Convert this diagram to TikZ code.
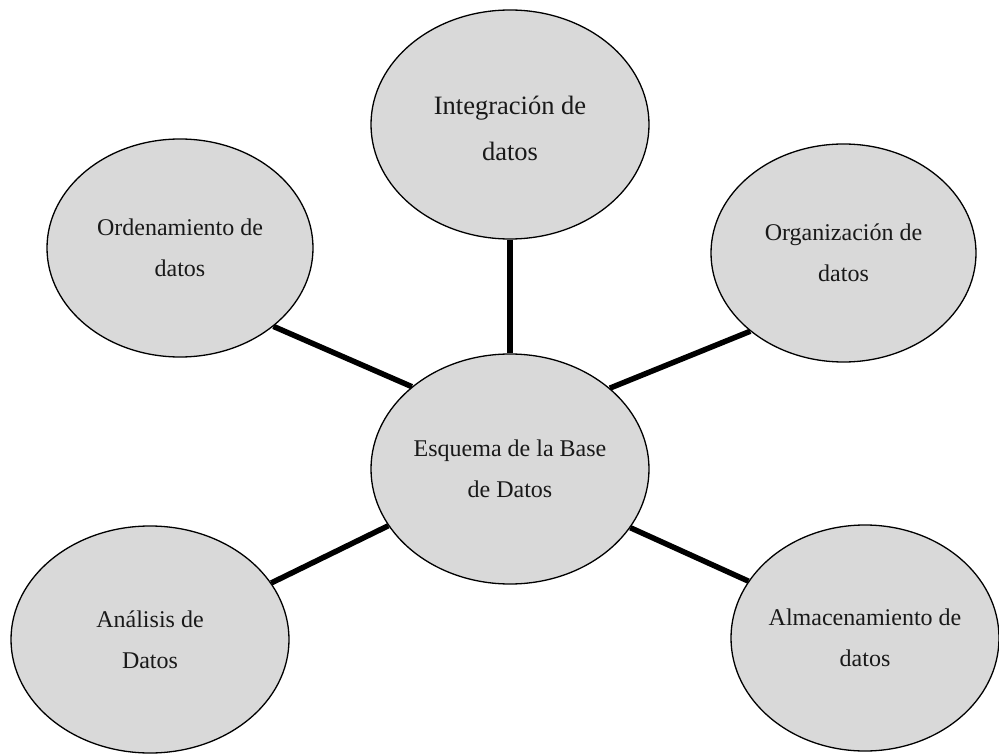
\documentclass[tikz,border=0pt]{standalone}
\usepackage{fontspec}
\setmainfont{Liberation Serif}
\usetikzlibrary{shapes.geometric,backgrounds}
\definecolor{ellfill}{RGB}{217,217,217}
\tikzset{
  bubble/.style={ellipse, draw=black, line width=1.3pt, fill=ellfill, inner sep=0pt},
  lbl/.style={align=center, inner sep=0pt, font=\fontsize{24}{41}\selectfont, text=black!90},
  biglbl/.style={lbl, font=\fontsize{26.5}{46}\selectfont},
  link/.style={line width=5.5pt, black}
}
\begin{document}
\begin{tikzpicture}[x=1pt,y=1pt]
\useasboundingbox (0,0) rectangle (999,-754);
% ellipses
\node[bubble, minimum width=278pt, minimum height=229pt] (T) at (510,-124.5) {};
\node[bubble, minimum width=278pt, minimum height=230pt] (C) at (510,-469) {};
\node[bubble, minimum width=266pt, minimum height=218pt] (L) at (180,-248) {};
\node[bubble, minimum width=265pt, minimum height=218pt] (R) at (843.5,-253) {};
\node[bubble, minimum width=278pt, minimum height=227pt] (BL) at (150,-639.5) {};
\node[bubble, minimum width=268pt, minimum height=226pt] (BR) at (865,-638) {};
% labels
\node[biglbl] (tT) at ([yshift=-4pt]T.center) {Integración de\\datos};
\node[lbl] (tC) at (C.center) {Esquema de la Base\\de Datos};
\node[lbl] (tL) at (L.center) {Ordenamiento de\\datos};
\node[lbl] (tR) at (R.center) {Organización de\\datos};
\node[lbl] (tBL) at (BL.center) {Análisis de\\Datos};
\node[lbl] (tBR) at (BR.center) {Almacenamiento de\\datos};
% connectors
\begin{pgfonlayer}{background}
\draw[link] (T.south) -- (C.north);
\draw[link] (L.-40.3) -- (C.140.5);
\draw[link] (R.220.4) -- (C.39.9);
\draw[link] (BL.25.2) -- (C.205.4);
\draw[link] (BR.154.4) -- (C.-26);
\end{pgfonlayer}
\end{tikzpicture}
\end{document}
